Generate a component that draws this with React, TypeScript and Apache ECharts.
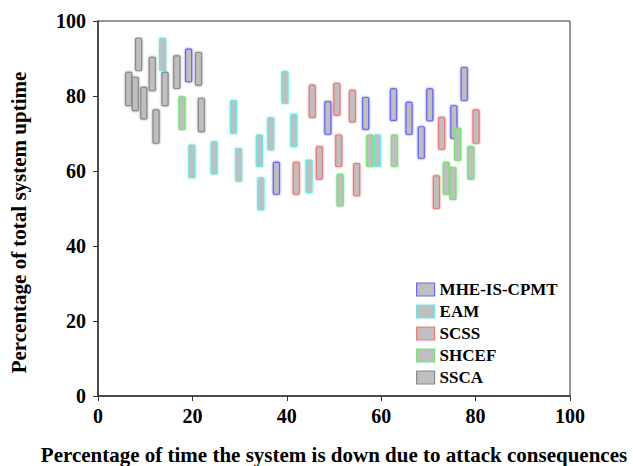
import React, { useEffect, useRef } from "react";
import * as echarts from "echarts";

// [x, low, high]
const mheIsCpmt: number[][] = [
  [19.2, 83.8, 92.5], [37.8, 53.8, 62.3], [48.7, 69.8, 78.5], [56.7, 71.1, 79.6],
  [62.6, 73.5, 81.9], [65.9, 69.8, 78.3], [68.5, 63.4, 71.8], [70.3, 73.4, 81.9],
  [75.4, 68.7, 77.4], [77.6, 78.8, 87.6],
];
const eam: number[][] = [
  [13.7, 86.8, 95.4], [19.9, 58.2, 66.9], [24.6, 59.2, 67.8], [28.7, 70.0, 78.8],
  [29.8, 57.3, 66.0], [34.2, 61.2, 69.6], [34.5, 49.6, 58.2], [36.6, 65.6, 74.2],
  [39.6, 78.0, 86.5], [41.5, 66.5, 75.1], [44.7, 54.2, 62.9], [59.2, 61.2, 69.6],
];
const scss: number[][] = [
  [42.0, 53.8, 62.3], [45.4, 74.3, 82.9], [46.9, 57.8, 66.5], [50.6, 74.9, 83.4],
  [51.0, 61.2, 69.6], [53.9, 73.1, 81.5], [54.8, 53.4, 62.0], [71.7, 50.0, 58.7],
  [72.8, 65.8, 74.3], [80.1, 67.4, 76.3],
];
const shcef: number[][] = [
  [17.8, 71.1, 79.8], [51.3, 50.7, 59.1], [57.6, 61.2, 69.6], [62.8, 61.2, 69.6],
  [73.8, 53.8, 62.3], [75.2, 52.4, 60.9], [76.2, 62.9, 71.4], [79.0, 57.8, 66.5],
];
const ssca: number[][] = [
  [6.5, 77.4, 86.3], [7.9, 76.1, 85.0], [8.6, 86.8, 95.4], [9.7, 73.9, 82.3],
  [11.5, 81.4, 90.3], [12.3, 67.4, 76.3], [14.2, 77.4, 86.3], [16.7, 82.0, 90.7],
  [21.3, 82.9, 91.6], [21.9, 70.5, 79.4],
];

const seriesNames = ["MHE-IS-CPMT", "EAM", "SCSS", "SHCEF", "SSCA"];
const seriesData = [mheIsCpmt, eam, scss, shcef, ssca];
const strokeColors = ["#6a6aee", "#6ee6e6", "#ee7a7a", "#78e078", "#8c8c8c"];
const fillColor = "#bfbfbf";

const FONT = "Liberation Serif";

export default function App() {
  const ref = useRef<HTMLDivElement>(null);
  useEffect(() => {
    if (!ref.current) return;
    const chart = echarts.init(ref.current, undefined, { renderer: "svg" });
    const series = seriesNames.map((name, i) => ({
      name,
      type: "custom",
      data: seriesData[i],
      encode: { x: 0, y: [1, 2] },
      itemStyle: { color: fillColor, borderColor: strokeColors[i], borderWidth: 1.2 },
      renderItem: (params: any, api: any) => {
        const x = api.value(0);
        const lo = api.value(1);
        const hi = api.value(2);
        const p1 = api.coord([x, hi]);
        const p2 = api.coord([x, lo]);
        return {
          type: "rect",
          shape: { x: p1[0] - 3, y: p1[1], width: 6, height: p2[1] - p1[1], r: 1 },
          style: {
            fill: fillColor,
            stroke: strokeColors[i],
            lineWidth: 1.2,
            shadowBlur: 2,
            shadowColor: strokeColors[i],
          },
        };
      },
    }));
    chart.setOption({
      animation: false,
      grid: {
        left: 98,
        right: 63,
        top: 21,
        bottom: 70,
        show: true,
        borderColor: "#333",
        borderWidth: 1,
        containLabel: false,
        outerBoundsMode: "none",
      },
      legend: {
        orient: "vertical",
        left: 411,
        top: 276,
        itemWidth: 18,
        itemHeight: 13,
        itemGap: 5,
        data: seriesNames.map((n, i) => ({
          name: n,
          icon: "rect",
          itemStyle: { color: fillColor, borderColor: strokeColors[i], borderWidth: 1.2 },
        })),
        textStyle: { fontFamily: FONT, fontWeight: "bold", fontSize: 17, color: "#000" },
      },
      xAxis: {
        type: "value",
        min: 0,
        max: 100,
        interval: 20,
        name: "Percentage of time the system is down due to attack consequences",
        nameLocation: "middle",
        nameGap: 48,
        nameTextStyle: { fontFamily: FONT, fontWeight: "bold", fontSize: 21, color: "#000" },
        axisLine: { show: true, lineStyle: { color: "#333", width: 1.5 } },
        axisTick: { show: true, inside: false, length: 5, lineStyle: { color: "#333" } },
        axisLabel: { fontFamily: FONT, fontWeight: "bold", fontSize: 20, color: "#000", margin: 10 },
        splitLine: { show: false },
      },
      yAxis: {
        type: "value",
        min: 0,
        max: 100,
        interval: 20,
        name: "Percentage of total system uptime",
        nameLocation: "middle",
        nameGap: 69,
        nameTextStyle: {
          fontFamily: FONT,
          fontWeight: "bold",
          fontSize: 21,
          color: "#000",
          padding: [0, 28, 0, 0],
        },
        axisLine: { show: true, lineStyle: { color: "#333", width: 1.5 } },
        axisTick: { show: true, inside: false, length: 5, lineStyle: { color: "#333" } },
        axisLabel: { fontFamily: FONT, fontWeight: "bold", fontSize: 20, color: "#000", margin: 12 },
        splitLine: { show: false },
      },
      series,
    });
    return () => chart.dispose();
  }, []);
  return (
    <div
      ref={ref}
      style={{ position: "absolute", left: 0, top: 0, width: 633, height: 466, background: "#fff" }}
    />
  );
}
